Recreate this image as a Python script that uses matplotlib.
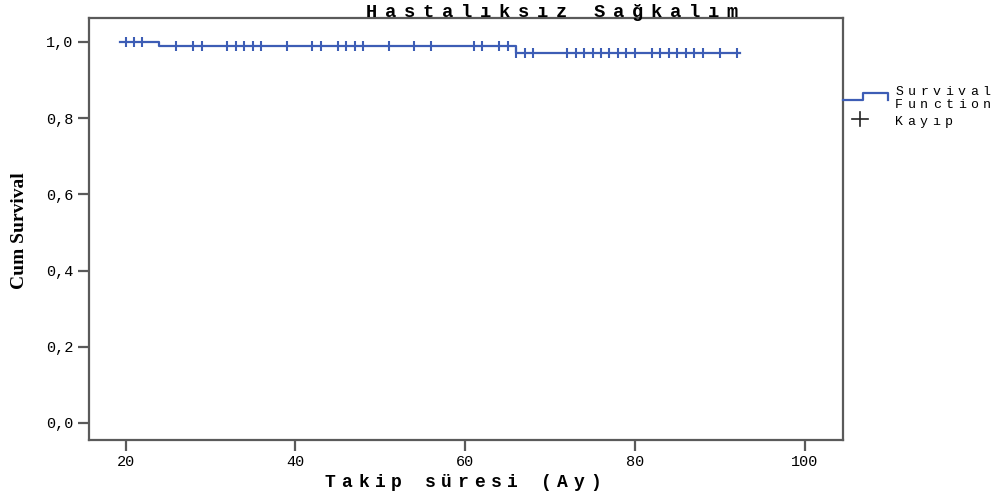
import numpy as np
import matplotlib
matplotlib.use('Agg')
import matplotlib.pyplot as plt
from matplotlib.lines import Line2D

# step function (Kaplan-Meier)
event_times = [24, 66]
surv_levels = [1.0, 0.989, 0.970]
t_start, t_end = 19.3, 92.4

# censored cases ("Kayıp")
censor_times = [20, 21, 22,
                26, 28, 29, 32, 33, 34, 35, 36, 39, 42, 43, 45, 46, 47, 48, 51,
                54, 56, 61, 62, 64, 65,
                66, 67, 68, 72, 73, 74, 75, 76, 77, 78, 79, 80, 82, 83, 84, 85,
                86, 87, 88, 90, 92]

x_ticks = [20, 40, 60, 80, 100]
y_ticks = [0.0, 0.2, 0.4, 0.6, 0.8, 1.0]
y_tick_labels = ['0,0', '0,2', '0,4', '0,6', '0,8', '1,0']

title = 'Hastalıksız Sağkalım'
x_label = 'Takip süresi (Ay)'
y_label = 'Cum Survival'

W, H = 1008, 495
blue = '#3d5db5'
frame = '#5a5a5a'
mono = 'Liberation Mono'

fig = plt.figure(figsize=(W / 100, H / 100), dpi=100)
ax = fig.add_axes([89 / W, 1 - 440 / H, (843 - 89) / W, (440 - 18) / H])

xs = [t_start] + event_times + [t_end]
ys = surv_levels + [surv_levels[-1]]
ax.step(xs, ys, where='post', color=blue, lw=1.6)

idx = np.searchsorted(event_times, censor_times, side='right')
cens_y = np.array(surv_levels)[idx]
ax.plot(censor_times, cens_y, ls='none', marker='|', ms=7, mew=1.5, color=blue)

ax.set_xlim(15.7, 104.5)
ax.set_ylim(-0.045, 1.063)
ax.set_xticks(x_ticks)
ax.set_xticklabels([str(v) for v in x_ticks])
ax.set_yticks(y_ticks)
ax.set_yticklabels(y_tick_labels)
for s in ax.spines.values():
    s.set_color(frame)
    s.set_linewidth(1.6)
ax.tick_params(direction='out', length=8, width=1.6, color=frame, pad=3,
               labelsize=11)
for lab in ax.get_xticklabels() + ax.get_yticklabels():
    lab.set_family(mono)


def spaced(x, y, s, pitch, **kw):
    # monospace text with a wide letter pitch, one glyph per position
    x0 = x - pitch * (len(s) - 1) / 2
    for i, ch in enumerate(s):
        if ch != ' ':
            fig.text((x0 + i * pitch) / W, 1 - y / H, ch, ha='center',
                     va='baseline', family=mono, **kw)


spaced(552, 17, title, 19.0, size=13.5, weight='bold')
spaced(463, 487, x_label, 16.6, size=13, weight='bold')
fig.text(20 / W, 1 - 231 / H, y_label, rotation=90, ha='center', va='center',
         family='Liberation Serif', weight='bold', size=14)

# legend outside on the right
fig.add_artist(Line2D(np.array([843, 863, 863, 888, 888]) / W,
                      1 - np.array([100, 100, 93, 93, 100]) / H,
                      color=blue, lw=1.6))
fig.add_artist(Line2D([852 / W, 868 / W], [1 - 119 / H] * 2, color='#222222', lw=1.2))
fig.add_artist(Line2D([860 / W] * 2, [1 - 112 / H, 1 - 126 / H], color='#222222', lw=1.2))
for txt, cx, by in [('Survival', 943, 95), ('Function', 943, 108), ('Kayıp', 924, 125)]:
    spaced(cx, by, txt, 12.5, size=9.5)

fig.savefig('out.png', dpi=100)
